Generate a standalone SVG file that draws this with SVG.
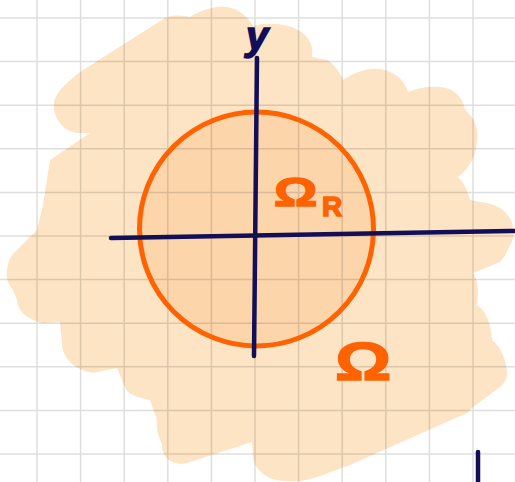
<svg xmlns="http://www.w3.org/2000/svg" width="515" height="482" viewBox="0 0 515 482">
  <style>
    .grid { stroke: #000; stroke-opacity: 0.13; stroke-width: 1.5; fill: none; }
    .axis { stroke: #120E58; stroke-width: 4.5; stroke-linecap: round; fill: none; }
    .lbl { fill: #FF6200; stroke: #FF6200; font-family: "Liberation Sans", "DejaVu Sans", sans-serif; font-weight: bold; }
  </style>
  <rect x="0" y="0" width="515" height="482" fill="#FFFFFF"/>
  <g id="region-omega">
    <path fill="#FDE4C4" d="M 80,72 L 165,18 C 175,14 185,16 190,17 C 205,8 225,2 240,12 C 247,17 251,22 253,26 C 265,22 292,22 305,35 C 312,42 313,50 312,57 L 327,60 C 335,65 340,72 343,80 C 355,72 370,66 385,70 C 398,74 405,82 408,92 C 418,88 428,86 440,87 C 455,88 463,98 465,110 C 475,118 479,130 477,142 C 476,155 470,168 458,177 C 466,185 468,193 470,200 L 480,202 C 495,203 506,210 511,220 C 515,230 514,240 510,245 C 507,252 504,258 500,262 L 473,273 C 478,280 479,292 477,305 C 485,310 491,322 492,340 C 500,346 506,358 507,373 C 507,380 503,385 500,387 L 473,407 L 467,413 L 350,465 C 330,472 315,479 300,481 C 285,482 275,480 270,478 C 260,473 253,466 253,455 L 252,442 L 187,463 C 172,466 162,458 162,445 C 158,435 156,428 157,420 L 150,400 C 138,398 127,394 125,387 L 117,368 L 93,373 C 75,370 62,358 62,343 L 60,322 L 43,323 C 28,320 18,312 17,300 L 13,290 C 7,283 6,276 7,270 C 8,260 12,254 17,250 L 37,230 L 43,205 L 50,160 L 90,133 L 80,133 C 65,133 53,120 54,103 C 55,93 65,84 80,72 Z"/>
  </g>
  <g id="disk-omega-r">
    <circle cx="256.5" cy="229" r="117" fill="#FCD5AA" stroke="none"/>
  </g>
  <path class="grid" d="M37,0V482M80.6,0V482M124.2,0V482M167.8,0V482M211.4,0V482M255,0V482M298.6,0V482M342.2,0V482M385.8,0V482M429.4,0V482M473,0V482M0,18H515M0,61.6H515M0,105.2H515M0,148.8H515M0,192.4H515M0,236H515M0,279.6H515M0,323.2H515M0,366.8H515M0,410.4H515M0,454H515"/>
  <g id="circle-boundary">
    <circle cx="256.5" cy="229" r="117" fill="none" stroke="#FF6200" stroke-width="5"/>
  </g>
  <g id="connectors">
    <line class="axis" x1="111" y1="238" x2="515" y2="231"/>
    <line class="axis" x1="254" y1="356" x2="257" y2="58"/>
    <line class="axis" x1="478" y1="452" x2="478" y2="482" stroke-width="3.5"/>
  </g>
  <g id="axis-label-y">
    <text x="246" y="50" font-family="Liberation Sans, DejaVu Sans, sans-serif" font-style="italic" font-weight="bold" font-size="40" fill="#120E58" stroke="#120E58" stroke-width="1.5">y</text>
  </g>
  <g id="label-omega-r">
    <text class="lbl" x="274" y="206" font-size="40" stroke-width="1.5" transform="translate(274,206) scale(1.35,1) translate(-274,-206)">Ω</text>
    <text class="lbl" x="322" y="216" font-size="28" stroke-width="1.5">R</text>
  </g>
  <g id="label-omega">
    <text class="lbl" x="335" y="380" font-size="54" stroke-width="1.5" transform="translate(335,380) scale(1.3,1) translate(-335,-380)">Ω</text>
  </g>
</svg>
